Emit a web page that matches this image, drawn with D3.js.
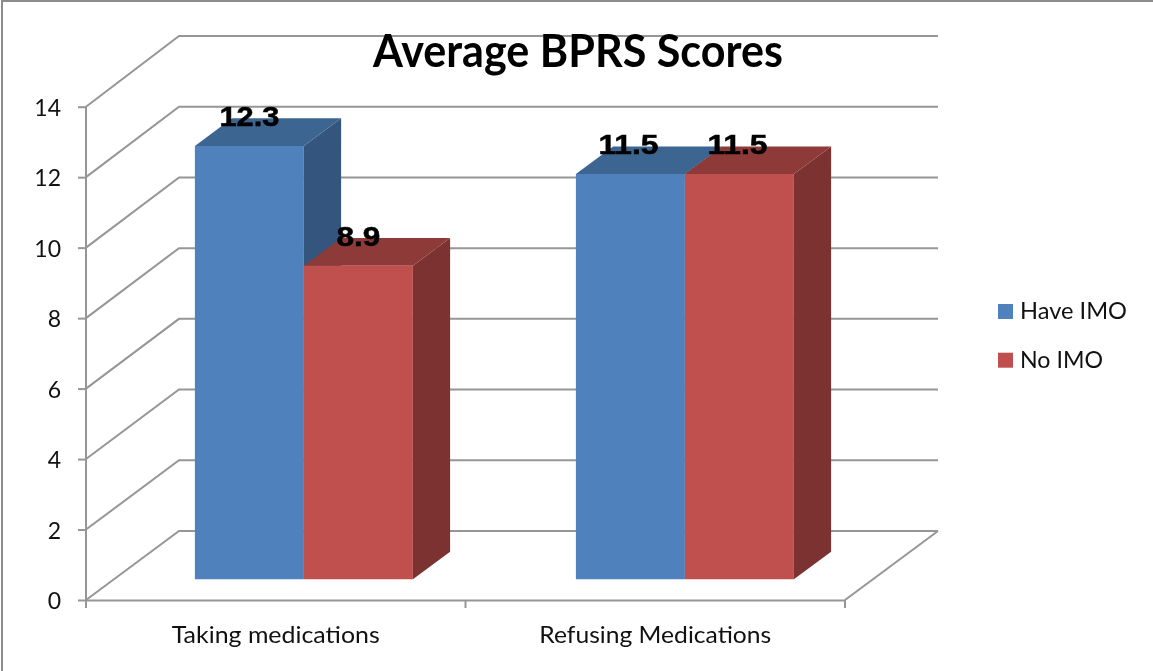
<!DOCTYPE html>
<html><head><meta charset="utf-8">
<script src="https://cdn.jsdelivr.net/npm/d3@7"></script>
<style>html,body{margin:0;padding:0;background:#fff;overflow:hidden}svg{display:block;filter:blur(0.35px)}</style>
</head><body><svg id="c" width="1153" height="671"></svg>
<script>
const categories = ["Taking medications", "Refusing Medications"];
const seriesNames = ["Have IMO", "No IMO"];
const haveIMO = [12.3, 11.5];
const noIMO = [8.9, 11.5];
const yTicks = [0, 2, 4, 6, 8, 10, 12, 14];
const titleText = "Average BPRS Scores";
const frontColors = ["#4f81bd", "#c0504d"];
const topColors = ["#3d6591", "#8e3a38"];
const sideColors = ["#33557e", "#7c3230"];
const GRID = "#969696";
const FONT = "Lato, 'Open Sans', sans-serif";

const svg = d3.select("#c");
const y = d3.scaleLinear().domain([0, 14]).range([600, 106.7]);
const yBack = d3.scaleLinear().domain([0, 14]).range([531, 36]);
const x = d3.scaleBand().domain(categories).range([86, 845]);
const barGroup = d3.scaleBand().domain(categories).range([167, 929]);
const series = d3.scaleBand().domain(seriesNames).range([0, 218]);
const DX = 93, DY = -69;               // full floor depth in screen space
const proj = (px, py, z) => [px + DX * z, py + DY * z];
const Z0 = 0.3, Z1 = 0.7;              // bar's depth span on the floor
const path = pts => "M" + pts.map(p => p.join(",")).join("L") + "Z";

// border
svg.append("path").attr("d", "M2,671V1H1153").attr("fill", "none").attr("stroke", "#8c8c8c").attr("stroke-width", 2);

// wall and floor gridlines
const g = svg.append("g").attr("fill", "none").attr("stroke", GRID).attr("stroke-width", 2);
yTicks.forEach(t => {
  const a = [x.range()[0], y(t)], b = [x.range()[0] + DX, yBack(t)], c = [x.range()[1] + DX, yBack(t)];
  g.append("path").attr("d", d3.line()([a, b, c]));
});
g.append("path").attr("d", d3.line()([[x.range()[1] + DX, yBack(0)], [x.range()[1], y(0)]]));

// axes
const yAxis = svg.append("g").attr("transform", `translate(${x.range()[0]},0)`)
  .call(d3.axisLeft(y).tickValues(yTicks).tickSize(8).tickPadding(17).tickSizeOuter(0));
yAxis.selectAll("text").attr("font-family", FONT).attr("font-size", 23).attr("fill", "#111").attr("dy", "0.38em");
const xAxis = svg.append("g").attr("transform", `translate(0,${y(0)})`)
  .call(d3.axisBottom(x).tickSize(0).tickPadding(26).tickSizeOuter(0));
xAxis.selectAll("text").attr("font-family", FONT).attr("font-size", 23).attr("fill", "#111")
  .attr("dy", "0.76em").attr("textLength", (d, i) => [208, 232][i]).attr("lengthAdjust", "spacingAndGlyphs");
[x.range()[0], x.range()[0] + x.step(), x.range()[1]].forEach(px =>
  svg.append("line").attr("x1", px).attr("x2", px).attr("y1", y(0)).attr("y2", y(0) + 8).attr("stroke", GRID).attr("stroke-width", 2));
svg.selectAll(".domain, .tick line").attr("stroke", GRID).attr("stroke-width", 2);
yAxis.select(".domain").attr("d", `M0,${y(14)}V${y(0) + 8}`);

// bars
const barW = series.bandwidth();
const rows = [haveIMO, noIMO].flatMap((vals, s) => vals.map((v, c) => ({ v, c, s })));
const labels = [];
rows.forEach(d => {
  const left = barGroup(categories[d.c]) + series(seriesNames[d.s]);
  const fr = z => [proj(left, y(d.v), z), proj(left + barW, y(d.v), z), proj(left + barW, y(0), z), proj(left, y(0), z)];
  const f = fr(Z0), b = fr(Z1);
  svg.append("path").attr("d", path([f[1], b[1], b[2], f[2]])).attr("fill", sideColors[d.s]);
  svg.append("path").attr("d", path([f[0], b[0], b[1], f[1]])).attr("fill", topColors[d.s]);
  svg.append("path").attr("d", path(f)).attr("fill", frontColors[d.s]);
  labels.push({ x: (f[0][0] + f[1][0]) / 2 - d.c * 2, y: f[0][1] - 20, t: d.v.toFixed(1) });
});
labels.forEach(l => svg.append("text").attr("x", l.x).attr("y", l.y).attr("text-anchor", "middle")
  .attr("font-family", "'Liberation Sans', Arial, sans-serif").attr("font-weight", 700).attr("font-size", 28)
  .attr("stroke", "#000").attr("stroke-width", 0.5).attr("fill", "#000")
  .attr("textLength", l.t.length === 4 ? 60 : 44).attr("lengthAdjust", "spacingAndGlyphs").text(l.t));

// title
svg.append("text").attr("x", 578).attr("y", 67).attr("text-anchor", "middle").attr("font-family", FONT)
  .attr("font-weight", 700).attr("font-size", 45).attr("fill", "#000")
  .attr("textLength", 410).attr("lengthAdjust", "spacingAndGlyphs").text(titleText);

// legend
seriesNames.forEach((n, i) => {
  const ly = 304 + i * 48.7;
  svg.append("rect").attr("x", 998).attr("y", ly).attr("width", 15).attr("height", 15).attr("fill", frontColors[i]);
  svg.append("text").attr("x", 1020).attr("y", ly + 15).attr("font-family", FONT).attr("font-size", 23).attr("fill", "#111")
    .attr("textLength", [107, 83][i]).attr("lengthAdjust", "spacingAndGlyphs").text(n);
});
</script></body></html>
